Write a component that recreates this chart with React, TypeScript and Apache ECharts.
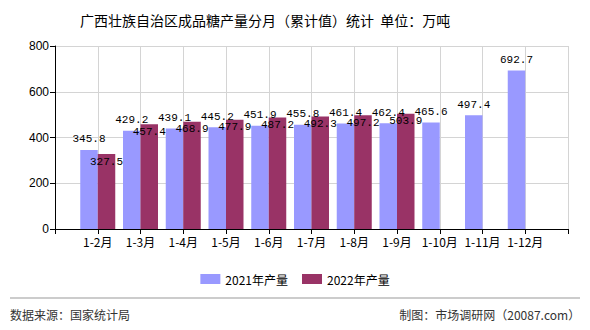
import React, { useEffect, useRef } from "react";
import * as echarts from "echarts";

const categories = ["", "1-2月", "1-3月", "1-4月", "1-5月", "1-6月", "1-7月", "1-8月", "1-9月", "1-10月", "1-11月", "1-12月", ""];
const values2021 = [null, 345.8, 429.2, 439.1, 445.2, 451.9, 455.8, 461.4, 462.4, 465.6, 497.4, 692.7, null];
const values2022 = [null, 327.5, 457.4, 468.9, 477.9, 487.2, 492.3, 497.2, 503.9, null, null, null, null];
const seriesNames = ["2021年产量", "2022年产量"];
const yTicks = { min: 0, max: 800, interval: 200 };

const TITLE = "广西壮族自治区成品糖产量分月（累计值）统计  单位：万吨";
const SOURCE = "数据来源：国家统计局";
const MAKER = "制图：市场调研网（20087.com）";

export default function App() {
  const ref = useRef<HTMLDivElement>(null);
  useEffect(() => {
    if (!ref.current) return;
    const chart = echarts.init(ref.current, null, { renderer: "svg" });
    const cjk = "'Noto Sans CJK SC', sans-serif";
    const mono = "'Liberation Mono', monospace";
    chart.setOption({
      animation: false,
      backgroundColor: "#ffffff",
      title: {
        text: TITLE,
        left: 75,
        top: 8,
        textStyle: { fontSize: 14, fontWeight: "normal", color: "#000", fontFamily: cjk },
      },
      legend: {
        data: seriesNames,
        left: "center",
        top: 268,
        icon: "rect",
        itemWidth: 20,
        itemHeight: 10,
        itemGap: 14,
        textStyle: { fontSize: 12, color: "#000", fontFamily: cjk },
      },
      grid: { left: 55, right: 22, top: 46, bottom: 101, containLabel: false },
      xAxis: {
        type: "category",
        data: categories,
        boundaryGap: false,
        axisLine: { lineStyle: { color: "#000" } },
        axisTick: { show: true, length: 5, interval: 0, lineStyle: { color: "#000" } },
        axisLabel: { interval: 0, fontSize: 12, color: "#000", fontFamily: cjk, margin: 6 },
        splitLine: { show: true, interval: 0, lineStyle: { color: "#d4d4d4" } },
      },
      yAxis: {
        type: "value",
        min: yTicks.min,
        max: yTicks.max,
        interval: yTicks.interval,
        axisLine: { show: true, lineStyle: { color: "#000" } },
        axisTick: { show: true, length: 5, lineStyle: { color: "#000" } },
        axisLabel: { fontSize: 12, color: "#000", fontFamily: "'Liberation Sans', Arial, sans-serif", margin: 6 },
        splitLine: { show: true, lineStyle: { color: "#d4d4d4" } },
      },
      series: [
        {
          name: seriesNames[0],
          type: "bar",
          data: values2021,
          barWidth: 17.5,
          barGap: "0%",
          itemStyle: { color: "#9999ff" },
          label: {
            show: true,
            position: "top",
            distance: 5,
            color: "#000",
            fontSize: 11,
            fontFamily: mono,
            formatter: (p: any) => (p.value == null ? "" : Number(p.value).toFixed(1)),
          },
        },
        {
          name: seriesNames[1],
          type: "bar",
          data: values2022,
          barWidth: 17.5,
          barGap: "0%",
          itemStyle: { color: "#993366" },
          label: {
            show: true,
            position: "insideTop",
            distance: 2,
            color: "#000",
            fontSize: 11,
            fontFamily: mono,
            formatter: (p: any) => (p.value == null ? "" : Number(p.value).toFixed(1)),
          },
        },
      ],
      graphic: [
        {
          type: "line",
          shape: { x1: 10, y1: 298, x2: 580, y2: 298 },
          style: { stroke: "#999", lineWidth: 1 },
        },
        {
          type: "text",
          left: 10,
          top: 308,
          style: { text: SOURCE, fontSize: 12, fill: "#333", fontFamily: cjk },
        },
        {
          type: "text",
          right: 10,
          top: 308,
          style: { text: MAKER, fontSize: 12, fill: "#333", fontFamily: cjk },
        },
      ],
    });
    return () => chart.dispose();
  }, []);
  return <div ref={ref} style={{ position: "fixed", left: 0, top: 0, width: 590, height: 330 }} />;
}
